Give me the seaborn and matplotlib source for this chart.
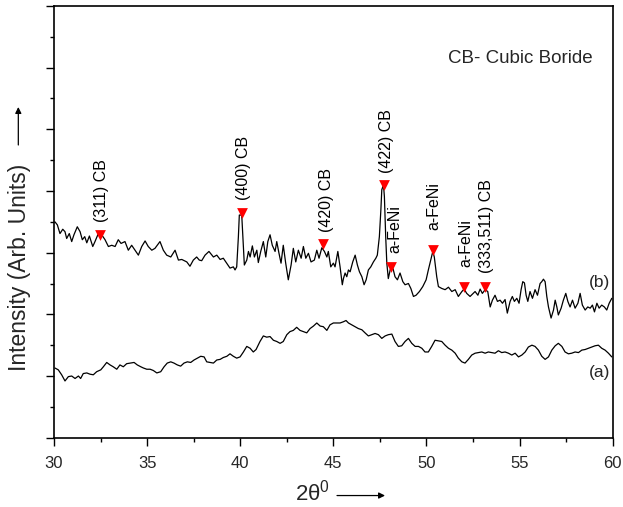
import matplotlib
matplotlib.use("Agg")
import matplotlib.pyplot as plt
from matplotlib.ticker import MultipleLocator, NullFormatter
import numpy as np
import pandas as pd
import seaborn as sns

# ---- diffraction patterns (2theta in degrees, intensity in arb. units) ----
two_theta_b = [
    30.05, 30.18, 30.32, 30.47, 30.59, 30.68, 30.82, 30.95, 31.07, 31.25,
    31.40, 31.52, 31.65, 31.76, 31.90, 32.08, 32.20, 32.38, 32.56, 32.74,
    32.92, 33.10, 33.28, 33.45, 33.60, 33.81, 33.99, 34.17, 34.35, 34.53,
    34.71, 34.89, 35.06, 35.25, 35.42, 35.69, 35.87, 36.05, 36.27, 36.50,
    36.68, 36.86, 37.13, 37.30, 37.48, 37.66, 37.80,
    37.93, 38.11, 38.32, 38.56, 38.74, 38.92, 39.09, 39.27, 39.45, 39.63,
    39.72, 39.81, 39.90, 39.95, 40.08, 40.17, 40.22, 40.35, 40.44, 40.53,
    40.65, 40.76, 40.89, 40.97, 41.10, 41.24, 41.37, 41.48, 41.60, 41.72,
    41.87, 41.96, 42.08, 42.19, 42.31, 42.44, 42.58, 42.73, 42.85, 42.98,
    43.12, 43.27, 43.39, 43.52, 43.66, 43.80, 43.98, 44.11, 44.23, 44.38,
    44.52, 44.65, 44.73, 44.86, 45.00, 45.09, 45.24, 45.36, 45.48,
    45.54, 45.63, 45.72, 45.81, 45.90, 46.04, 46.17, 46.29, 46.40, 46.53,
    46.65, 46.76, 46.88, 47.01, 47.15, 47.28, 47.36, 47.47, 47.55, 47.60,
    47.69, 47.74, 47.81, 47.87, 47.95, 48.05, 48.14, 48.22, 48.31, 48.44,
    48.58, 48.73, 48.85, 49.03, 49.16, 49.30, 49.44, 49.62, 49.80, 49.98,
    50.10, 50.23, 50.34, 50.42, 50.55, 50.64, 50.82, 51.00, 51.18, 51.36,
    51.54, 51.71, 51.90, 52.02, 52.16, 52.34,
    52.61, 52.76, 52.88, 53.00, 53.15, 53.29, 53.42, 53.54, 53.68, 53.81,
    53.95, 54.08, 54.22, 54.34, 54.49, 54.61, 54.72, 54.85, 54.97, 55.08,
    55.17, 55.26, 55.35, 55.44, 55.56, 55.69, 55.83, 55.96, 56.10, 56.19,
    56.28, 56.37, 56.46, 56.55, 56.69, 56.82, 56.91, 57.00, 57.08, 57.23,
    57.35, 57.48, 57.59, 57.71, 57.84, 57.98, 58.13, 58.25, 58.37, 58.52,
    58.66, 58.79, 58.91, 59.02, 59.15, 59.27, 59.41, 59.55, 59.68, 59.81,
    59.95,
]
intensity_b = [
    3.50, 3.45, 3.31, 3.38, 3.34, 3.23, 3.31, 3.18, 3.29, 3.42,
    3.34, 3.21, 3.26, 3.16, 3.27, 3.10, 3.18, 3.31, 3.29, 3.21,
    3.10, 3.12, 3.10, 3.21, 3.15, 3.18, 3.04, 3.12, 3.04, 2.96,
    3.10, 3.19, 3.10, 3.04, 3.07, 3.18, 3.04, 2.96, 2.93, 3.04,
    2.88, 2.89, 2.85, 2.78, 2.88, 2.93, 2.88,
    2.87, 2.96, 3.02, 2.93, 2.96, 2.89, 2.91, 2.83, 2.75, 2.77,
    2.72, 2.77, 3.26, 3.61, 3.61, 3.10, 2.80, 2.88, 3.02, 2.93,
    3.11, 2.93, 3.04, 2.84, 3.02, 3.18, 2.93, 3.18, 3.29, 3.12,
    3.02, 3.18, 2.99, 2.83, 3.12, 2.83, 2.56, 2.80, 3.07, 2.85,
    3.04, 2.91, 3.10, 2.91, 2.99, 2.85, 2.88, 3.04, 2.91, 3.08,
    3.02, 2.93, 3.02, 2.77, 2.83, 2.77, 3.02, 2.77, 2.48,
    2.58, 2.67, 2.61, 2.72, 2.69, 2.85, 2.96, 2.80, 2.69, 2.61,
    2.48, 2.56, 2.72, 2.77, 2.85, 2.91, 2.96, 3.26, 3.69, 4.02,
    4.10, 3.91, 3.26, 2.83, 2.58, 2.72, 2.80, 2.72, 2.61, 2.56,
    2.67, 2.53, 2.48, 2.50, 2.42, 2.29, 2.31, 2.37, 2.45, 2.56,
    2.72, 2.88, 3.02, 2.93, 2.61, 2.45, 2.42, 2.40, 2.44, 2.37,
    2.40, 2.29, 2.37, 2.41, 2.34, 2.29,
    2.37, 2.31, 2.41, 2.34, 2.40, 2.37, 2.12, 2.23, 2.31, 2.21,
    2.23, 2.18, 2.24, 2.02, 2.21, 2.29, 2.21, 2.26, 2.18, 2.40,
    2.53, 2.51, 2.31, 2.21, 2.37, 2.26, 2.40, 2.31, 2.50, 2.53,
    2.57, 2.53, 2.29, 2.12, 1.94, 2.07, 2.23, 2.12, 1.99, 2.10,
    2.23, 2.34, 2.21, 2.12, 2.23, 2.10, 2.18, 2.34, 2.15, 2.07,
    2.12, 2.10, 2.15, 2.04, 2.18, 2.10, 2.15, 2.12, 2.07, 2.18,
    2.26,
]

two_theta_a = [
    30.05, 30.23, 30.41, 30.59, 30.77, 30.95, 31.13, 31.31, 31.43, 31.57,
    31.76, 31.93, 32.11, 32.29, 32.51, 32.65, 32.83, 33.01, 33.18, 33.37,
    33.54, 33.72, 33.90, 34.12, 34.30, 34.47, 34.66, 34.80, 34.98, 35.16,
    35.33, 35.52, 35.73, 35.91, 36.08, 36.27, 36.44, 36.62, 36.80, 36.98,
    37.16, 37.34, 37.52, 37.70, 37.88, 38.06, 38.20, 38.38, 38.56, 38.74,
    38.92, 39.09, 39.28, 39.45, 39.63, 39.81, 39.99, 40.17, 40.35, 40.53,
    40.70, 40.85, 41.06, 41.24, 41.42, 41.60, 41.78, 41.96, 42.14, 42.31,
    42.50, 42.67, 42.85, 43.03, 43.21, 43.39, 43.57, 43.75, 43.93, 44.11,
    44.29, 44.46, 44.65,
    44.82, 45.00, 45.18, 45.36, 45.54, 45.68, 45.81, 45.99, 46.17, 46.34,
    46.53, 46.70, 46.88, 47.06, 47.24, 47.42, 47.60, 47.78, 47.95, 48.14,
    48.31, 48.49, 48.67, 48.85, 49.03, 49.21, 49.39, 49.57, 49.75, 49.92,
    50.10, 50.28, 50.46, 50.64, 50.82, 51.00, 51.18, 51.36, 51.54, 51.71,
    51.90, 52.07, 52.25, 52.43, 52.61, 52.79, 52.97, 53.15, 53.32, 53.51,
    53.68, 53.86, 54.04, 54.22, 54.40, 54.58, 54.76, 54.94, 55.12, 55.30,
    55.47, 55.66, 55.83, 56.01, 56.19, 56.37, 56.55, 56.73, 56.91, 57.08,
    57.27, 57.44, 57.62, 57.80, 57.98, 58.16, 58.34, 58.52, 58.70, 58.88,
    59.05, 59.23, 59.41, 59.59, 59.77, 59.95,
]
intensity_a = [
    1.13, 1.10, 1.02, 0.92, 0.99, 1.00, 0.96, 1.00, 0.96, 1.04,
    1.05, 1.03, 1.02, 1.07, 1.10, 1.15, 1.22, 1.18, 1.15, 1.11,
    1.18, 1.15, 1.20, 1.21, 1.22, 1.18, 1.15, 1.13, 1.11, 1.11,
    1.09, 1.05, 1.07, 1.15, 1.21, 1.23, 1.21, 1.18, 1.16, 1.21,
    1.23, 1.22, 1.26, 1.29, 1.32, 1.31, 1.23, 1.22, 1.21, 1.26,
    1.27, 1.30, 1.32, 1.36, 1.32, 1.29, 1.31, 1.39, 1.48, 1.45,
    1.39, 1.43, 1.56, 1.65, 1.63, 1.64, 1.58, 1.56, 1.53, 1.56,
    1.67, 1.72, 1.74, 1.79, 1.74, 1.72, 1.70, 1.77, 1.81, 1.86,
    1.81, 1.80, 1.74,
    1.83, 1.86, 1.86, 1.86, 1.88, 1.90, 1.86, 1.83, 1.80, 1.77,
    1.75, 1.70, 1.65, 1.67, 1.69, 1.67, 1.61, 1.65, 1.67, 1.68,
    1.56, 1.48, 1.49, 1.56, 1.61, 1.53, 1.48, 1.48, 1.45, 1.39,
    1.39, 1.48, 1.58, 1.57, 1.56, 1.50, 1.45, 1.42, 1.37, 1.29,
    1.23, 1.21, 1.27, 1.34, 1.37, 1.38, 1.39, 1.37, 1.39, 1.38,
    1.37, 1.41, 1.38, 1.39, 1.37, 1.34, 1.37, 1.31, 1.34, 1.39,
    1.47, 1.50, 1.48, 1.42, 1.32, 1.27, 1.31, 1.42, 1.49, 1.53,
    1.48, 1.39, 1.36, 1.37, 1.39, 1.38, 1.42, 1.43, 1.45, 1.47,
    1.49, 1.50, 1.45, 1.42, 1.37, 1.31,
]

# ---- indexed reflections on pattern (b) ----
peak_labels = ["(311) CB", "(400) CB", "(420) CB", "(422) CB",
               "a-FeNi", "a-FeNi", "a-FeNi", "(333,511) CB"]
peak_pos = [32.46, 40.08, 44.46, 47.70, 48.11, 50.34, 52.04, 53.15]
peak_int = [3.29, 3.65, 3.14, 4.10, 2.77, 3.05, 2.45, 2.45]
label_pos = [32.56, 40.17, 44.64, 47.83, 48.31, 50.41, 52.13, 53.20]
label_base = [3.50, 3.85, 3.33, 4.29, 2.99, 3.37, 2.77, 2.67]

sns.set_style("ticks")
plt.rcParams["font.family"] = ["Liberation Sans", "DejaVu Sans"]
plt.rcParams["mathtext.fontset"] = "custom"
plt.rcParams["mathtext.rm"] = "Liberation Sans"
plt.rcParams["mathtext.it"] = "Liberation Sans"

df_a = pd.DataFrame({"two_theta": two_theta_a, "intensity": intensity_a})
df_b = pd.DataFrame({"two_theta": two_theta_b, "intensity": intensity_b})
df_peaks = pd.DataFrame({"two_theta": peak_pos, "intensity": peak_int})

fig = plt.figure(figsize=(6.23, 5.07), dpi=100)
ax = fig.add_axes([0.0867, 0.1367, 0.8968, 0.8515])

sns.lineplot(data=df_a, x="two_theta", y="intensity", ax=ax,
             color="black", lw=0.9, estimator=None)
sns.lineplot(data=df_b, x="two_theta", y="intensity", ax=ax,
             color="black", lw=0.9, estimator=None)
sns.scatterplot(data=df_peaks, x="two_theta", y="intensity", ax=ax,
                marker="v", color="#ff0000", s=60, linewidth=0, zorder=5)

for lab, xp, yp in zip(peak_labels, label_pos, label_base):
    ax.text(xp, yp, lab, rotation=90, ha="center", va="bottom",
            fontsize=11.5, color="black")

ax.text(51.16, 6.15, "CB- Cubic Boride", ha="left", va="center", fontsize=13.5)
ax.text(59.86, 2.51, "(b)", ha="right", va="center", fontsize=12.5)
ax.text(59.86, 1.06, "(a)", ha="right", va="center", fontsize=12.5)

ax.set_xlim(30, 60)
ax.set_ylim(0, 7)
ax.xaxis.set_major_locator(MultipleLocator(5))
ax.xaxis.set_minor_locator(MultipleLocator(2.5))
ax.yaxis.set_major_locator(MultipleLocator(1))
ax.yaxis.set_minor_locator(MultipleLocator(0.5))
ax.yaxis.set_major_formatter(NullFormatter())
ax.tick_params(axis="both", which="major", direction="out", length=5.5,
               width=1.0, color="black", labelsize=12, pad=8)
ax.tick_params(axis="both", which="minor", direction="out", length=3,
               width=1.0, color="black")
ax.tick_params(top=False, right=False, which="both")
for sp in ax.spines.values():
    sp.set_visible(True)
    sp.set_linewidth(1.2)
    sp.set_color("black")

ax.set_xlabel(r"2θ$^\mathrm{0}$", fontsize=16)
ax.xaxis.label.set_va("center")
ax.xaxis.set_label_coords(0.462, -0.128)
ax.set_ylabel("Intensity (Arb. Units)", fontsize=16.5)
ax.yaxis.label.set_va("center")
ax.yaxis.set_label_coords(-0.0609, 0.394)

arrow = dict(arrowstyle="-|>", lw=0.9, color="black", mutation_scale=9,
             shrinkA=0, shrinkB=0)
ax.annotate("", xy=(0.5925, -0.134), xytext=(0.5065, -0.134),
            xycoords="axes fraction", arrowprops=arrow, annotation_clip=False)
ax.annotate("", xy=(-0.0639, 0.766), xytext=(-0.0639, 0.678),
            xycoords="axes fraction", arrowprops=arrow, annotation_clip=False)

fig.savefig("out.png", dpi=100)
